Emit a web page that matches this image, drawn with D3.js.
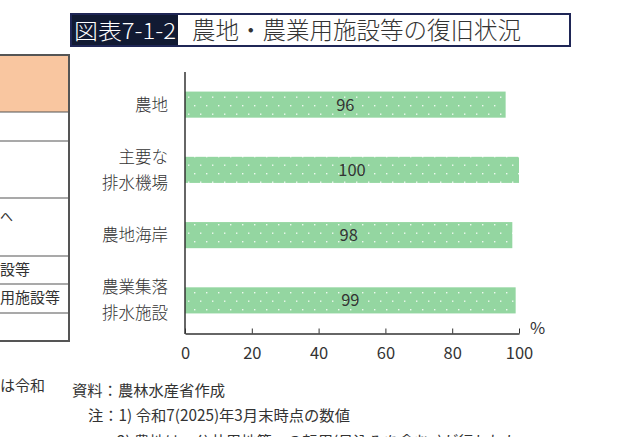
<!DOCTYPE html>
<html><head><meta charset="utf-8">
<script src="https://cdn.jsdelivr.net/npm/d3@7"></script>
<style>
html,body{margin:0;padding:0;background:#fff;}
svg{display:block;font-family:"Noto Sans CJK JP","Noto Sans",sans-serif;}
</style></head>
<body>
<svg id="chart" width="642" height="437"></svg>
<script>
const categories = [["農地"], ["主要な", "排水機場"], ["農地海岸"], ["農業集落", "排水施設"]];
const values = [96, 100, 98, 99];
const xTicks = [0, 20, 40, 60, 80, 100];
const titleLabel = "図表7-1-2";
const titleText = "農地・農業用施設等の復旧状況";
const notes = ["資料：農林水産省作成", "注：1) 令和7(2025)年3月末時点の数値", "2) 農地は、公共用地等への転用(見込みを含む。)が行われた"];

const svg = d3.select("#chart");
const textColor = "#333";

// pattern for bars
const defs = svg.append("defs");
const pat = defs.append("pattern").attr("id", "dots").attr("patternUnits", "userSpaceOnUse")
  .attr("width", 12).attr("height", 17);
pat.append("rect").attr("width", 12).attr("height", 17).attr("fill", "#94d6a1");
pat.append("rect").attr("x", 2).attr("y", 3).attr("width", 1.4).attr("height", 1.4).attr("fill", "#eef9f0");
pat.append("rect").attr("x", 8).attr("y", 11.5).attr("width", 1.4).attr("height", 1.4).attr("fill", "#eef9f0");

// left cropped table (context from neighbouring figure)
const tbl = svg.append("g");
tbl.append("rect").attr("x", -5).attr("y", 55).attr("width", 74).attr("height", 57).attr("fill", "#f9c6a0");
const rowLines = [55, 112, 141, 198, 256, 284, 313, 341];
rowLines.forEach(y => tbl.append("line").attr("x1", 0).attr("x2", 70).attr("y1", y).attr("y2", y)
  .attr("stroke", "#555").attr("stroke-width", y === 55 || y === 341 ? 2 : 1.2));
tbl.append("line").attr("x1", 69).attr("x2", 69).attr("y1", 54).attr("y2", 342).attr("stroke", "#555").attr("stroke-width", 2);
tbl.append("text").attr("x", 0).attr("y", 275).attr("font-size", 15).attr("fill", textColor).text("設等");
tbl.append("text").attr("x", 0).attr("y", 303).attr("font-size", 15).attr("fill", textColor).text("用施設等");
tbl.append("text").attr("x", 0).attr("y", 221).attr("font-size", 13).attr("fill", textColor).text("へ");
tbl.append("text").attr("x", 0).attr("y", 391).attr("font-size", 15).attr("fill", textColor).text("は令和");

// title
const tg = svg.append("g");
tg.append("rect").attr("x", 71).attr("y", 14).attr("width", 499).attr("height", 32).attr("fill", "#fff")
  .attr("stroke", "#1f2656").attr("stroke-width", 2);
tg.append("rect").attr("x", 72).attr("y", 15).attr("width", 106).attr("height", 30).attr("fill", "#111a33");
tg.append("text").attr("x", 74).attr("y", 39).attr("font-size", 22).attr("font-weight", 300).attr("fill", "#fff")
  .attr("textLength", 102).attr("lengthAdjust", "spacingAndGlyphs").text(titleLabel);
tg.append("text").attr("x", 192).attr("y", 39).attr("font-size", 23.5).attr("font-weight", 300).attr("fill", textColor).text(titleText);

// scales
const x = d3.scaleLinear().domain([0, 100]).range([185, 519]);
const y = d3.scaleBand().domain(d3.range(categories.length)).range([72, 333]).paddingInner(0.6).paddingOuter(0.3);

// bars
svg.append("g").selectAll("rect").data(values).join("rect")
  .attr("x", x(0)).attr("y", (d, i) => y(i)).attr("width", d => x(d) - x(0)).attr("height", y.bandwidth())
  .attr("fill", "url(#dots)");

// value labels
svg.append("g").selectAll("text").data(values).join("text")
  .attr("x", d => (x(0) + x(d)) / 2).attr("y", (d, i) => y(i) + y.bandwidth() / 2 + 6)
  .attr("text-anchor", "middle").attr("font-size", 16.5).attr("fill", textColor).text(d => d);

// category labels
const cg = svg.append("g");
categories.forEach((lines, i) => {
  const cy = y(i) + y.bandwidth() / 2;
  const lh = 26;
  lines.forEach((ln, j) => {
    cg.append("text").attr("x", 168).attr("y", cy + (j - (lines.length - 1) / 2) * lh + 6)
      .attr("text-anchor", "end").attr("font-size", 16.5).attr("font-weight", 300).attr("fill", textColor).text(ln);
  });
});

// axes
const xAxis = d3.axisBottom(x).tickValues(xTicks).tickSize(-5).tickPadding(14).tickSizeOuter(0);
const ax = svg.append("g").attr("transform", "translate(0,333.5)").call(xAxis);
ax.select(".domain").attr("stroke", "#333").attr("stroke-width", 1.5);
ax.selectAll(".tick line").attr("stroke", "#333");
ax.selectAll(".tick text").attr("font-size", 16.5).attr("fill", textColor).attr("font-family", "'Noto Sans CJK JP',sans-serif");
svg.append("line").attr("x1", 185).attr("x2", 185).attr("y1", 72).attr("y2", 334).attr("stroke", "#333").attr("stroke-width", 1.5);
svg.append("text").attr("x", 530).attr("y", 334).attr("font-size", 16.5).attr("fill", textColor).text("%");

// notes
svg.append("text").attr("x", 72).attr("y", 396).attr("font-size", 15.3).attr("fill", textColor).text(notes[0]);
svg.append("text").attr("x", 88).attr("y", 421).attr("font-size", 15.3).attr("fill", textColor).text(notes[1]);
svg.append("text").attr("x", 117).attr("y", 447).attr("font-size", 15.3).attr("fill", textColor).text(notes[2]);
</script>
</body></html>
